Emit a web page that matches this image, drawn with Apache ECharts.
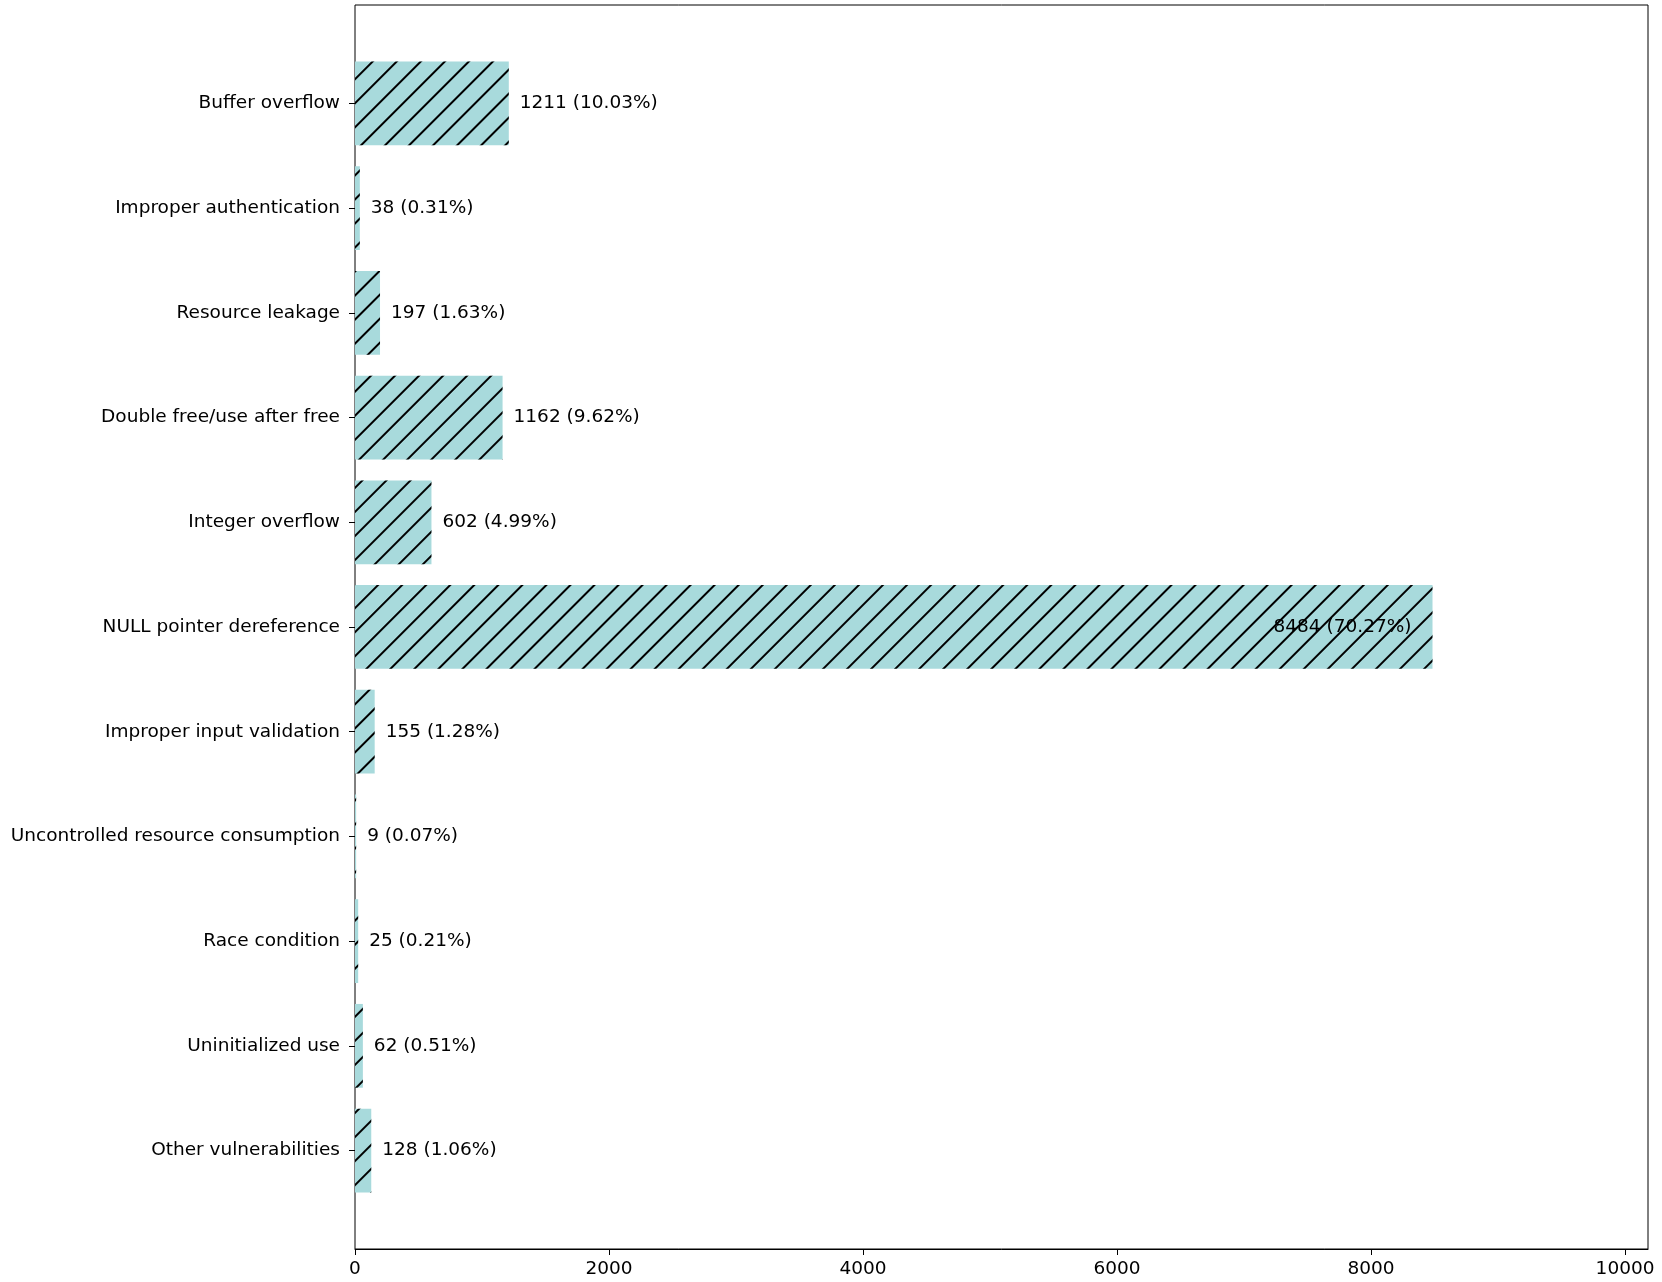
<!DOCTYPE html>
<html>
<head>
<meta charset="utf-8">
<script src="https://cdn.jsdelivr.net/npm/echarts@6/dist/echarts.min.js"></script>
<style>
html,body{margin:0;padding:0;background:#fff;}
#chart{width:1662px;height:1282px;}
</style>
</head>
<body>
<div id="chart"></div>
<script>
const categories = ['Buffer overflow','Improper authentication','Resource leakage','Double free/use after free','Integer overflow','NULL pointer dereference','Improper input validation','Uncontrolled resource consumption','Race condition','Uninitialized use','Other vulnerabilities'];
const counts = [1211, 38, 197, 1162, 602, 8484, 155, 9, 25, 62, 128];
const percents = ['10.03','0.31','1.63','9.62','4.99','70.27','1.28','0.07','0.21','0.51','1.06'];
const xTicks = [0, 2000, 4000, 6000, 8000, 10000];
const xMax = 10180.8;

const FONT = 'DejaVu Sans';
const FS = 18.5;
const maxVal = Math.max(...counts);

const chart = echarts.init(document.getElementById('chart'), null, {renderer: 'canvas'});
const option = {
  backgroundColor: '#fff',
  animation: false,
  grid: [
    {left: 355, right: 14, top: 5, bottom: 33, show: true, borderColor: '#000', borderWidth: 1, backgroundColor: 'transparent'},
    {left: 355, right: 14, top: 51.07, bottom: 79.1}
  ],
  xAxis: [
    {
      gridIndex: 0, type: 'value', min: 0, max: xMax, interval: 2000,
      splitLine: {show: false},
      axisLine: {show: true, lineStyle: {color: '#000', width: 1}},
      axisTick: {show: true, length: 6, lineStyle: {color: '#000', width: 1}, customValues: xTicks},
      axisLabel: {color: '#000', fontFamily: FONT, fontSize: FS, margin: 11, customValues: xTicks, formatter: v => String(v)}
    },
    {gridIndex: 1, type: 'value', min: 0, max: xMax, show: false}
  ],
  yAxis: [
    {gridIndex: 0, type: 'value', min: 0, max: 1, show: false},
    {
      gridIndex: 1, type: 'category', data: categories, inverse: true,
      axisLine: {show: false},
      axisTick: {show: true, alignWithLabel: true, length: 6, lineStyle: {color: '#000', width: 1}},
      axisLabel: {color: '#000', fontFamily: FONT, fontSize: FS, margin: 15},
      splitLine: {show: false}
    }
  ],
  series: [{
    type: 'bar',
    xAxisIndex: 1, yAxisIndex: 1,
    barWidth: '80%',
    data: counts.map((v, i) => {
      const d = {value: v};
      if (v === maxVal) d.label = {position: 'insideRight', distance: 21};
      return d;
    }),
    itemStyle: {
      color: '#a8dadc',
      decal: {
        symbol: 'rect', symbolSize: 1, color: '#000',
        dashArrayX: [1, 0], dashArrayY: [1.5, 14.4],
        rotation: -Math.PI / 4
      }
    },
    label: {
      show: true, position: 'right', distance: 11,
      color: '#000', fontFamily: FONT, fontSize: FS,
      formatter: p => counts[p.dataIndex] + ' (' + percents[p.dataIndex] + '%)'
    }
  }]
};
chart.setOption(option);
</script>
</body>
</html>
